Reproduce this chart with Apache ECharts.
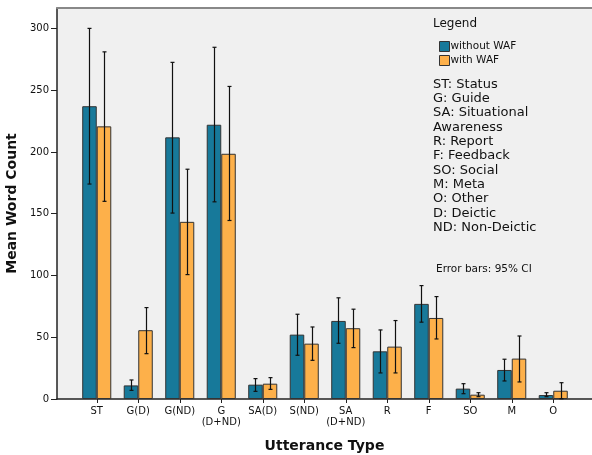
<!DOCTYPE html>
<html>
<head>
<meta charset="utf-8">
<script src="https://cdn.jsdelivr.net/npm/echarts@6/dist/echarts.min.js"></script>
<style>
  html, body { margin: 0; padding: 0; background: #fff; }
  #chart { width: 592px; height: 455px; }
</style>
</head>
<body>
<div id="chart"></div>
<script>
// utterance categories
const categories = ['ST', 'G(D)', 'G(ND)', 'G\n(D+ND)', 'SA(D)', 'S(ND)', 'SA\n(D+ND)', 'R', 'F', 'SO', 'M', 'O']

// means
const withoutWaf = [237, 11, 211.8, 222, 11.6, 52.1, 63.2, 38.6, 77, 8.4, 23.5, 3.2]
const withWaf = [220.7, 55.7, 143.4, 198.5, 12.4, 44.8, 57.3, 42.4, 65.6, 3.5, 32.7, 6.7]

// 95% CI bounds
const withoutLow = [174, 7, 150.5, 159.6, 6.2, 35.4, 45.1, 21.1, 62.2, 4.3, 14.6, 1.9]
const withoutHigh = [300, 15.4, 272.5, 284.7, 16.5, 68.6, 81.9, 55.9, 91.8, 12.4, 32.2, 5.1]
const withLow = [160, 36.7, 100.7, 144.5, 7.8, 31.3, 41.6, 21.1, 48.6, 1.9, 13.8, 0.2]
const withHigh = [281, 74, 186, 253, 17.3, 58.3, 72.7, 63.5, 82.9, 5.1, 51, 13.2]

const yTicks = [0, 50, 100, 150, 200, 250, 300]

const notes = ['ST: Status', 'G: Guide', 'SA: Situational', 'Awareness', 'R: Report', 'F: Feedback',
  'SO: Social', 'M: Meta', 'O: Other', 'D: Deictic', 'ND: Non-Deictic']

const blue = '#17799a'
const orange = '#fdb04a'
const yMax = 316.5
const font = '"DejaVu Sans", sans-serif'

function errorItem(side, low, high) {
  return function(params, api) {
    const i = api.value(0)
    const band = api.size([1, 0])[0]
    const off = band * 0.7 / 4 * side
    const top = api.coord([i, high[i]])
    const bot = api.coord([i, low[i]])
    const x = Math.round(top[0] + off) + 0.5
    const cap = 2
    const style = { stroke: '#111', lineWidth: 1.2 }
    return {
      type: 'group',
      children: [
        { type: 'line', shape: { x1: x, y1: top[1], x2: x, y2: bot[1] }, style: style },
        { type: 'line', shape: { x1: x - cap, y1: top[1], x2: x + cap, y2: top[1] }, style: style },
        { type: 'line', shape: { x1: x - cap, y1: bot[1], x2: x + cap, y2: bot[1] }, style: style }
      ]
    }
  }
}

const chart = echarts.init(document.getElementById('chart'))

const noteTexts = notes.map((t, k) => ({
  type: 'text',
  left: 433,
  top: 78 + k * 14.3,
  style: { text: t, font: '13px ' + font, fill: '#111' }
}))

chart.setOption({
  animation: false,
  textStyle: { fontFamily: font },
  grid: [
    { left: 57, right: 0, top: 8, bottom: 56, show: true, backgroundColor: '#f0f0f0', borderWidth: 0, outerBoundsMode: 'none' },
    { left: 76, right: 18, top: 8, bottom: 56, outerBoundsMode: 'none' }
  ],
  xAxis: [
    {
      gridIndex: 0, type: 'value', min: 0, max: 1, position: 'bottom',
      axisLine: { show: true, lineStyle: { color: '#222', width: 1.5 } },
      axisTick: { show: false }, axisLabel: { show: false }, splitLine: { show: false },
      name: 'Utterance Type', nameLocation: 'middle', nameGap: 40,
      nameTextStyle: { fontSize: 14, fontWeight: 'bold', color: '#111' }
    },
    {
      gridIndex: 0, type: 'value', min: 0, max: 1, position: 'top',
      axisLine: { show: true, lineStyle: { color: '#888', width: 2 } },
      axisTick: { show: false }, axisLabel: { show: false }, splitLine: { show: false }
    },
    {
      gridIndex: 1, type: 'category', data: categories,
      axisLine: { show: false },
      axisTick: { show: true, alignWithLabel: true, length: 4, lineStyle: { color: '#222' } },
      axisLabel: { interval: 0, fontSize: 10, color: '#111', margin: 7, lineHeight: 11 }
    }
  ],
  yAxis: [
    {
      gridIndex: 0, type: 'value', min: 0, max: yMax, interval: 50,
      axisLine: { show: true, lineStyle: { color: '#222', width: 1.5 } },
      axisTick: { show: true, length: 6, customValues: yTicks, lineStyle: { color: '#222' } },
      axisLabel: { fontSize: 10, color: '#111', margin: 8, customValues: yTicks },
      splitLine: { show: false },
      name: 'Mean Word Count', nameLocation: 'middle', nameGap: 30,
      nameTextStyle: { fontSize: 14, fontWeight: 'bold', color: '#111' }
    },
    { gridIndex: 1, type: 'value', min: 0, max: yMax, show: false, splitLine: { show: false } }
  ],
  legend: {
    orient: 'vertical', left: 434, top: 36, itemWidth: 10, itemHeight: 10, itemGap: 3,
    icon: 'rect',
    data: ['without WAF', 'with WAF'],
    textStyle: { fontSize: 10.5, color: '#111', padding: [0, 0, 0, -4], fontFamily: font },
    itemStyle: { borderColor: '#333', borderWidth: 1 }
  },
  graphic: [
    { type: 'text', left: 433, top: 18, style: { text: 'Legend', font: '12px ' + font, fill: '#111' } },
    { type: 'text', left: 436, top: 264, style: { text: 'Error bars: 95% CI', font: '10.5px ' + font, fill: '#111' } }
  ].concat(noteTexts),
  series: [
    {
      name: 'without WAF', type: 'bar', xAxisIndex: 2, yAxisIndex: 1, data: withoutWaf,
      barGap: '0%', barCategoryGap: '30%',
      itemStyle: { color: blue, borderColor: '#333', borderWidth: 1 }
    },
    {
      name: 'with WAF', type: 'bar', xAxisIndex: 2, yAxisIndex: 1, data: withWaf,
      itemStyle: { color: orange, borderColor: '#333', borderWidth: 1 }
    },
    {
      type: 'custom', xAxisIndex: 2, yAxisIndex: 1, z: 5,
      renderItem: errorItem(-1, withoutLow, withoutHigh),
      data: categories.map((c, i) => [i])
    },
    {
      type: 'custom', xAxisIndex: 2, yAxisIndex: 1, z: 5,
      renderItem: errorItem(1, withLow, withHigh),
      data: categories.map((c, i) => [i])
    }
  ]
})
</script>
</body>
</html>
